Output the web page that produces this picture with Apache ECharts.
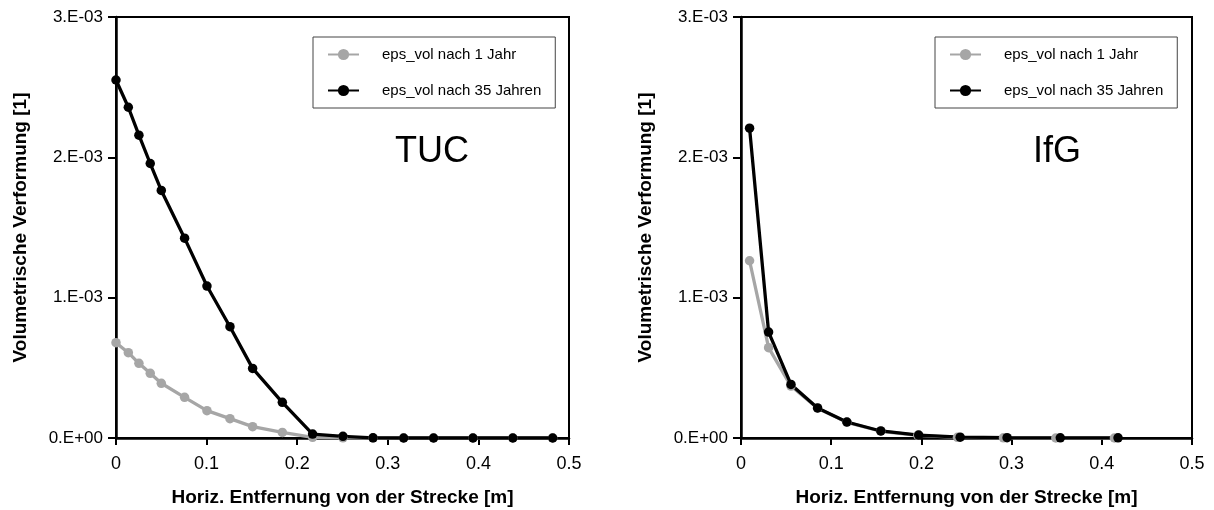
<!DOCTYPE html>
<html>
<head>
<meta charset="utf-8">
<script src="https://cdn.jsdelivr.net/npm/echarts@6/dist/echarts.min.js"></script>
<style>
html,body{margin:0;padding:0;background:#fff;}
#chart{width:1214px;height:510px;}
</style>
</head>
<body>
<div id="chart"></div>
<script>
// ---- Data ----
const seriesNames = ['eps_vol nach 1 Jahr', 'eps_vol nach 35 Jahren'];
const panelTitles = ['TUC', 'IfG'];
const xAxisTitle = 'Horiz. Entfernung von der Strecke [m]';
const yAxisTitle = 'Volumetrische Verformung [1]';
const yTickLabels = ['0.E+00', '1.E-03', '2.E-03', '3.E-03'];
const xTickLabels = ['0', '0.1', '0.2', '0.3', '0.4', '0.5'];

// TUC panel
const tucX = [0, 0.0136, 0.0253, 0.0378, 0.05, 0.0757, 0.1004, 0.1258, 0.1508, 0.1836, 0.217, 0.2505, 0.2837, 0.3175, 0.3505, 0.394, 0.438, 0.482];
const tuc1Jahr = [0.679e-3, 0.608e-3, 0.532e-3, 0.461e-3, 0.390e-3, 0.290e-3, 0.195e-3, 0.138e-3, 0.081e-3, 0.040e-3, 0.005e-3, 0.001e-3, 0, 0, 0, 0, 0, 0];
const tuc35Jahre = [2.551e-3, 2.357e-3, 2.158e-3, 1.956e-3, 1.764e-3, 1.424e-3, 1.083e-3, 0.793e-3, 0.496e-3, 0.254e-3, 0.028e-3, 0.012e-3, 0.001e-3, 0, 0, 0, 0, 0];

// IfG panel
const ifgX1Jahr = [0.0095, 0.0306, 0.0554, 0.0849, 0.1174, 0.155, 0.196, 0.240, 0.291, 0.349, 0.414];
const ifg1Jahr = [1.263e-3, 0.644e-3, 0.370e-3, 0.212e-3, 0.112e-3, 0.048e-3, 0.019e-3, 0.005e-3, 0.001e-3, 0, 0];
const ifgX35Jahre = [0.0095, 0.0306, 0.0554, 0.0849, 0.1174, 0.155, 0.197, 0.243, 0.295, 0.354, 0.418];
const ifg35Jahre = [2.208e-3, 0.755e-3, 0.382e-3, 0.214e-3, 0.114e-3, 0.050e-3, 0.021e-3, 0.006e-3, 0.002e-3, 0.001e-3, 0.001e-3];

// ---- Styling ----
const FONT = '"Liberation Sans", Arial, Helvetica, sans-serif';
const GREY = '#a6a6a6';
const BLACK = '#000000';

function pairs(xs, ys) { return xs.map((x, i) => [x, ys[i]]); }

const grids = [
  { left: 116, top: 17, width: 453, height: 421 },
  { left: 741, top: 17, width: 451, height: 421 }
];

function xAxisFor(idx) {
  return {
    type: 'value', gridIndex: idx, min: 0, max: 0.5, interval: 0.1,
    name: xAxisTitle, nameLocation: 'middle', nameGap: 50,
    nameTextStyle: { fontFamily: FONT, fontSize: 19, fontWeight: 'bold', color: '#000' },
    axisLine: { show: true, onZero: false, lineStyle: { color: '#000', width: 2.5 } },
    axisTick: { show: true, length: 7, lineStyle: { color: '#000', width: 2 } },
    axisLabel: { margin: 17, fontFamily: FONT, fontSize: 18, color: '#000',
      formatter: v => xTickLabels[Math.round(v / 0.1)] },
    splitLine: { show: false }
  };
}
function yAxisFor(idx) {
  return {
    type: 'value', gridIndex: idx, min: 0, max: 0.003, interval: 0.001,
    name: yAxisTitle, nameLocation: 'middle', nameGap: 86,
    nameTextStyle: { fontFamily: FONT, fontSize: 19, fontWeight: 'bold', color: '#000' },
    axisLine: { show: true, onZero: false, lineStyle: { color: '#000', width: 2.5 } },
    axisTick: { show: true, length: 8, lineStyle: { color: '#000', width: 2 } },
    axisLabel: { margin: 13, fontFamily: FONT, fontSize: 17, color: '#000',
      formatter: v => yTickLabels[Math.round(v / 0.001)] },
    splitLine: { show: false }
  };
}
function lineSeries(name, data, idx, color) {
  return {
    type: 'line', name: name, xAxisIndex: idx, yAxisIndex: idx, data: data,
    symbol: 'circle', symbolSize: 9.5, showSymbol: true,
    lineStyle: { color: color, width: 3.3 },
    itemStyle: { color: color },
    animation: false, silent: true
  };
}
function legendFor(idx, left) {
  return {
    show: true, orient: 'vertical', left: left, top: 37,
    data: seriesNames,
    itemWidth: 31, itemHeight: 14, itemGap: 21,
    padding: [10, 14, 10, 14],
    backgroundColor: '#fff', borderColor: '#444', borderWidth: 1,
    textStyle: { fontFamily: FONT, fontSize: 15, color: '#000', padding: [0, 0, 0, 18] },
    selectedMode: false
  };
}

const chart = echarts.init(document.getElementById('chart'), null, { renderer: 'canvas' });
chart.setOption({
  backgroundColor: '#fff',
  animation: false,
  grid: grids.map(g => Object.assign({ show: true, borderColor: '#000', borderWidth: 2, backgroundColor: 'transparent', containLabel: false, outerBoundsMode: 'none' }, g)),
  xAxis: [xAxisFor(0), xAxisFor(1)],
  yAxis: [yAxisFor(0), yAxisFor(1)],
  legend: [legendFor(0, 313), legendFor(1, 935)],
  series: [
    lineSeries(seriesNames[0], pairs(tucX, tuc1Jahr), 0, GREY),
    lineSeries(seriesNames[1], pairs(tucX, tuc35Jahre), 0, BLACK),
    lineSeries(seriesNames[0], pairs(ifgX1Jahr, ifg1Jahr), 1, GREY),
    lineSeries(seriesNames[1], pairs(ifgX35Jahre, ifg35Jahre), 1, BLACK)
  ],
  graphic: [
    { type: 'text', left: 432 - 37, top: 154 - 20, style: { text: panelTitles[0], font: '36px ' + FONT, fill: '#000' } },
    { type: 'text', left: 1057 - 24, top: 154 - 20, style: { text: panelTitles[1], font: '36px ' + FONT, fill: '#000' } }
  ]
});
</script>
</body>
</html>
